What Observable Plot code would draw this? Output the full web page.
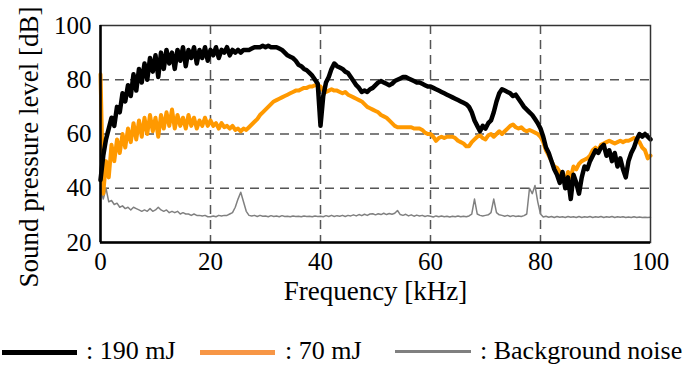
<!DOCTYPE html>
<html>
<head>
<meta charset="utf-8">
<script src="https://cdn.jsdelivr.net/npm/d3@7"></script>
<script src="https://cdn.jsdelivr.net/npm/@observablehq/plot@0.6"></script>
<style>
  html, body { margin: 0; padding: 0; background: #fff; }
  #wrap { position: relative; width: 690px; height: 371px; font-family: "Liberation Serif", "Times New Roman", serif; }
  #chart svg, #chart svg text { font-family: "Liberation Serif", "Times New Roman", serif !important; }
  #legend { position: relative; width: 690px; height: 51px; }
  .lg-line { position: absolute; height: 0; }
  .lg-text { position: absolute; font-size: 26px; line-height: 26px; white-space: nowrap; color: #000; }
</style>
</head>
<body>
<div id="wrap">
  <div id="chart"></div>
  <div id="legend"></div>
</div>
<script>
// Frequency grid [kHz]
const freqKHz = [
  0,0.5,1,1.5,2,2.5,3,3.5,4,4.5,5,5.5,6,6.5,7,7.5,8,8.5,9,9.5,
  10,10.5,11,11.5,12,12.5,13,13.5,14,14.5,15,15.5,16,16.5,17,17.5,18,18.5,19,19.5,
  20,20.5,21,21.5,22,22.5,23,23.5,24,24.5,25,25.5,26,26.5,27,27.5,28,28.5,29,29.5,
  30,30.5,31,31.5,32,32.5,33,33.5,34,34.5,35,35.5,36,36.5,37,37.5,38,38.5,39,39.5,
  40,40.5,41,41.5,42,42.5,43,43.5,44,44.5,45,45.5,46,46.5,47,47.5,48,48.5,49,49.5,
  50,50.5,51,51.5,52,52.5,53,53.5,54,54.5,55,55.5,56,56.5,57,57.5,58,58.5,59,59.5,
  60,60.5,61,61.5,62,62.5,63,63.5,64,64.5,65,65.5,66,66.5,67,67.5,68,68.5,69,69.5,
  70,70.5,71,71.5,72,72.5,73,73.5,74,74.5,75,75.5,76,76.5,77,77.5,78,78.5,79,79.5,
  80,80.5,81,81.5,82,82.5,83,83.5,84,84.5,85,85.5,86,86.5,87,87.5,88,88.5,89,89.5,
  90,90.5,91,91.5,92,92.5,93,93.5,94,94.5,95,95.5,96,96.5,97,97.5,98,98.5,99,99.5,
  100
];

// Sound pressure level [dB], 190 mJ
const spl190 = [
  43,52,58,62,66,63,70,68,75,72,78,74,82,76,84,79,86,80,88,83,
  89,81,90,84,91,86,90,84,91,87,92,85,91,88,92,86,91,88,92,87,
  91,89,92,88,91,90,92,89,91,90,91,90,91,91,91,91.5,92,92,92,92.5,
  92,92.5,92,92,92,91.5,91,90,89,88.5,88,87,85.5,85,84,83.5,82.5,81.5,80,78.5,
  63,74,79,81,84,86,85,84.5,84,83,82.5,81,79.5,78,77,75.5,76,75.5,76.5,77,
  78,79,79.5,79,78.5,78,78.5,79.5,80,80.5,81,81,80.5,80,79.5,79,79,78.5,78,77.5,
  77.5,77,76.5,76,75.5,75,74.5,74,73.5,73,72.5,72,71.5,71,70,68,65,63,61,63,
  62,64,65,68,72,75,76.5,76,75.5,75,74,74.5,73,71.5,70,69,68,67,65.5,64,
  62,59,55,53,50,47,45,42,46,40,44,36,45,42,38,44,48,47,50,52,
  54,53,55,56,52,54,50,53,48,51,47,44,50,53,55,58,60,59,60,59,
  58
];

// Sound pressure level [dB], 70 mJ
const spl70 = [
  82,38,50,44,56,50,58,53,60,55,62,57,64,58,65,59,66,60,67,61,
  66,59,67,62,68,63,69,62,67,63,66,62,67,63,66,62,65,63,66,63,
  65,63,64,62,64,62.5,63,62,63,61.5,62,61,62,61.5,62.5,63.5,64.5,65.5,67,68,
  69,70,71,72,72.5,73,73.5,74,74.5,75,75.5,76,76,76.5,77,77,77.5,77.5,78,78,
  77.5,76,75.5,76,76.5,76,76,75.5,75,75.5,74.5,74,73.5,73,72.5,72,71,70,69.5,69,
  68.5,68,67,66.5,66,65,64,63,62.5,62.5,62.5,62.5,62.5,62.5,62,62,62,61.5,60.5,60,
  60,59,57.5,58.5,59,58.5,59,59,59,58.5,57.5,57,56.5,55.5,55.5,57,58,59,59.5,58.5,
  58,59.5,60,59,60,61,60,61,62,63,63.5,62.5,62,62.5,61.5,61,61.5,61,60.5,60,
  59,57,54,52,50,48,47.5,46,43,42,46,44,48,47,49,50,50.5,51,52,54,
  55,54,56,56.5,57,57.5,57,56.5,57,57.5,57,57.5,57.5,58,58.5,58,57,55,54,51,
  52
];

// Sound pressure level [dB], background noise
const splNoise = [
  40,36,40,35,35.5,34,34.5,33,33.5,32.5,33,32,33,32.5,32,31.5,32,31.5,32.5,31.5,
  32,33,32,31.5,32,31,31.5,31,31.5,30.5,31,30.5,30.5,30,30.5,30,30,29.8,30,29.5,
  29.5,29.8,29.5,30,29.8,30,30,30.5,31,33,36,38.5,35,31.5,30,29.8,30,29.6,30,29.7,
  29.8,29.5,29.9,29.6,29.8,29.5,29.9,29.6,29.7,29.5,29.8,29.6,29.7,29.5,29.8,29.6,29.7,29.5,29.8,29.6,
  29.7,29.5,29.9,29.6,30,29.6,29.9,29.7,30,29.6,30,29.8,30.2,29.8,30.3,29.9,30.4,30,30.5,30.6,
  30.2,30.6,30.3,30.8,30.3,30.7,30.4,30.8,31.8,30.3,30,30.4,29.8,30.2,29.7,30.1,29.8,30,29.6,29.9,
  29.7,29.4,29.8,29.5,29.8,29.5,29.7,29.4,29.7,29.5,29.8,29.5,29.7,29.5,29.8,30.5,36,30.5,30,29.8,
  30,30.2,31,36,31,30.2,30,29.7,30,29.6,29.9,29.6,29.8,29.6,29.9,30.5,40,38,41,35,
  30.5,29.4,29.7,29.3,29.6,29.2,29.6,29.3,29.5,29.2,29.6,29.3,29.5,29.2,29.6,29.2,29.5,29.3,29.6,29.2,
  29.5,29.3,29.6,29.2,29.5,29.3,29.6,29.2,29.5,29.3,29.5,29.2,29.4,29.2,29.5,29.2,29.4,29.2,29.3,29.2,
  29.3
];

const xTicks = [0, 20, 40, 60, 80, 100];
const yTicks = [20, 40, 60, 80, 100];
const xGrid = [20, 40, 60, 80];
const yGrid = [40, 60, 80];
const xLabel = "Frequency [kHz]";
const yLabel = "Sound pressure level [dB]";
const seriesNames = ["190 mJ", "70 mJ", "Background noise"];
const seriesColors = ["#000000", "#FF9900", "#808080"];
const legendColors = ["#000000", "#F79646", "#808080"];

const rows = freqKHz.map((f, i) => ({f, e190: spl190[i], e70: spl70[i], noise: splNoise[i]}));

const gridStyle = {stroke: "#555", strokeWidth: 1.5, strokeDasharray: "9,6", strokeOpacity: 1};

const chart = Plot.plot({
  width: 690,
  height: 320,
  marginLeft: 100,
  marginRight: 40,
  marginTop: 25,
  marginBottom: 78,
  style: {fontFamily: "'Liberation Serif', 'Times New Roman', serif", fontSize: "25px", color: "#000", background: "#fff", overflow: "visible"},
  x: {domain: [0, 100], ticks: xTicks, tickFormat: d => d, tickSize: 0, tickPadding: 10, label: null},
  y: {domain: [20, 100], ticks: yTicks, tickFormat: d => d, tickSize: 0, tickPadding: 9, label: null},
  marks: [
    Plot.ruleX(xGrid, gridStyle),
    Plot.ruleY(yGrid, gridStyle),
    Plot.line(rows, {x: "f", y: "noise", stroke: seriesColors[2], strokeWidth: 1.5}),
    Plot.line(rows, {x: "f", y: "e70", stroke: seriesColors[1], strokeWidth: 4}),
    Plot.line(rows, {x: "f", y: "e190", stroke: seriesColors[0], strokeWidth: 4.5}),
    Plot.frame({stroke: "#333", strokeWidth: 1.5}),
    Plot.ruleX([0], {stroke: "#000", strokeWidth: 2.5}),
    Plot.ruleY([20], {stroke: "#000", strokeWidth: 2.5}),
    Plot.text([xLabel], {frameAnchor: "bottom", lineAnchor: "middle", textAnchor: "middle", dy: 49, fontSize: 27, fill: "#000"}),
    Plot.text([yLabel], {frameAnchor: "left", lineAnchor: "middle", textAnchor: "middle", rotate: -90, dx: -71, dy: 13, fontSize: 27, fill: "#000"})
  ]
});
document.getElementById("chart").appendChild(chart);

// Legend
const legend = document.getElementById("legend");
const legendItems = [
  {line: [2, 77], text: 86, width: 5},
  {line: [200, 275], text: 285, width: 5},
  {line: [395, 471], text: 480, width: 3.5}
];
legendItems.forEach((it, i) => {
  const ln = document.createElement("div");
  ln.className = "lg-line";
  ln.style.left = it.line[0] + "px";
  ln.style.width = (it.line[1] - it.line[0]) + "px";
  ln.style.top = (32 - it.width / 2) + "px";
  ln.style.borderTop = it.width + "px solid " + legendColors[i];
  legend.appendChild(ln);
  const tx = document.createElement("div");
  tx.className = "lg-text";
  tx.style.left = it.text + "px";
  tx.style.top = "18px";
  tx.textContent = ": " + seriesNames[i];
  legend.appendChild(tx);
});
</script>
</body>
</html>
